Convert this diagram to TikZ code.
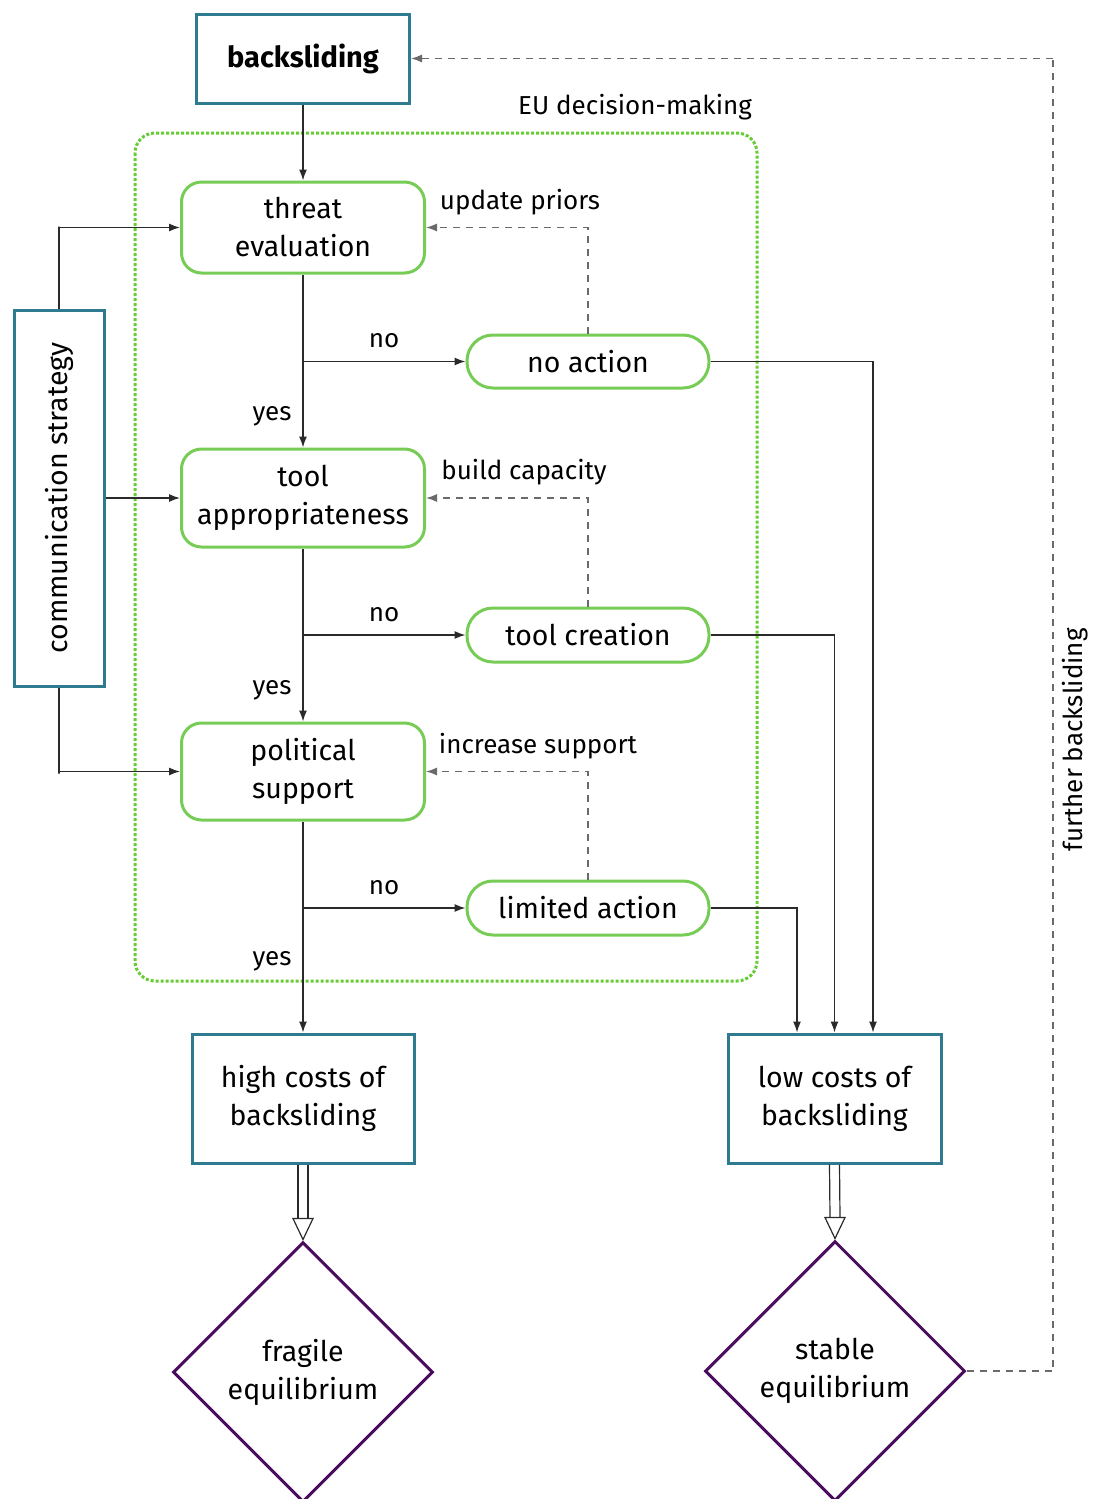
\documentclass[tikz,border=0pt]{standalone}
\usepackage{fontspec}
\setmainfont{Fira Sans}
\usetikzlibrary{shapes.geometric,arrows.meta,calc}
\definecolor{tealc}{HTML}{2E7A8E}
\definecolor{lgreen}{HTML}{77CC55}
\definecolor{dgreen}{HTML}{66CC33}
\definecolor{purp}{HTML}{4A0D5E}
\definecolor{conn}{HTML}{2A2A2A}
\definecolor{dashc}{HTML}{6A6A6A}
\tikzset{
  every node/.style={font=\fontsize{28.5}{38}\selectfont, align=center, inner sep=0pt},
  tealbox/.style={draw=tealc, line width=3pt, rectangle},
  greenbox/.style={draw=lgreen, line width=3pt, rectangle, rounded corners=20pt, minimum width=243pt},
  pillbox/.style={draw=lgreen, line width=3pt, rectangle, rounded corners=26pt, minimum width=242pt},
  eqbox/.style={draw=purp, line width=3pt, diamond, minimum width=260pt, minimum height=260pt, aspect=1},
  lbl/.style={font=\fontsize{26}{30}\selectfont},
  arr/.style={draw=conn, line width=1.3pt, -{Latex[length=11pt,width=8pt]}},
  darr/.style={draw=dashc, line width=1.3pt, dash pattern=on 7pt off 6pt, -{Latex[length=11pt,width=8pt]}},
  dline/.style={draw=dashc, line width=1.3pt, dash pattern=on 7pt off 6pt},
}
\begin{document}
\begin{tikzpicture}[x=1pt,y=-1pt]
\useasboundingbox (0,0) rectangle (1097,1499);
% container
\draw[dgreen, line width=3pt, dotted, rounded corners=20pt] (135,133) rectangle (757,981);
\node[lbl] (eu) at (635,107) {EU decision-making};
% nodes
\node[tealbox, minimum width=213pt, minimum height=89pt, font=\fontsize{29}{38}\selectfont\bfseries] (bs) at (303,58.5) {backsliding};
\node[greenbox, minimum height=91pt] (te) at (303,227.5) {threat\\evaluation};
\node[pillbox, minimum height=53pt] (na) at (588,361.5) {no action};
\node[greenbox, minimum height=98pt] (ta) at (303,498) {tool\\appropriateness};
\node[pillbox, minimum height=54pt] (tc) at (588,635) {tool creation};
\node[greenbox, minimum height=97pt] (ps) at (303,771.5) {political\\support};
\node[pillbox, minimum height=54pt] (la) at (588,908) {limited action};
\node[tealbox, minimum width=376pt, minimum height=90pt, rotate=90] (cs) at (59,498) {communication strategy};
\node[tealbox, minimum width=222pt, minimum height=129pt] (hc) at (303,1098.5) {high costs of\\backsliding};
\node[tealbox, minimum width=213pt, minimum height=129pt] (lc) at (834.5,1098.5) {low costs of\\backsliding};
\node[eqbox] (fe) at (303,1372) {fragile\\equilibrium};
\node[eqbox] (se) at (835,1371) {stable\\equilibrium};
% main flow
\draw[arr] (bs.south) -- (te.north);
\draw[arr] (te.south) -- (ta.north);
\draw[arr] (ta.south) -- (ps.north);
\draw[arr] (ps.south) -- (hc.north);
\coordinate (b1) at (303,361.5);
\coordinate (b2) at (303,635);
\coordinate (b3) at (303,908);
\draw[arr] (b1) -- (na.west);
\draw[arr] (b2) -- (tc.west);
\draw[arr] (b3) -- (la.west);
\node[lbl] (no1) at (384,341) {no};
\node[lbl] (no2) at (384,615) {no};
\node[lbl] (no3) at (384,888) {no};
\node[lbl] (y1) at (272,416) {yes};
\node[lbl] (y2) at (272,690) {yes};
\node[lbl] (y3) at (272,961) {yes};
% feedback dashed
\draw[darr] (na.north) |- (te.east);
\draw[darr] (tc.north) |- (ta.east);
\draw[darr] (la.north) |- (ps.east);
\node[lbl] (up) at (520,202) {update priors};
\node[lbl] (bc) at (524,472) {build capacity};
\node[lbl] (is) at (538,746) {increase support};
% to low costs
\coordinate (c1) at (873,361.5);
\coordinate (c3) at (797,908);
\draw[arr] (na.east) -- (c1) -- (c1 |- lc.north);
\draw[arr] (tc.east) -| (lc.north);
\draw[arr] (la.east) -- (c3) -- (c3 |- lc.north);
% communication strategy
\draw[arr] (cs.east) -- ++(0,-82) |- (te.west);
\draw[arr] (cs.south) -- (ta.west);
\draw[arr] (cs.west) -- ++(0,86) |- (ps.west);
% implies arrows
\foreach \a/\b in {hc/fe,lc/se}{
  \draw[conn, line width=1.2pt] ($(\a.south)+(-5,0)$) -- ($(\b.north)+(-5,-22)$);
  \draw[conn, line width=1.2pt] ($(\a.south)+(5,0)$) -- ($(\b.north)+(5,-22)$);
  \draw[conn, line width=1.2pt, fill=white, line join=miter] ($(\b.north)+(-10,-22)$) -- ($(\b.north)+(10,-22)$) -- ($(\b.north)+(0,-1)$) -- cycle;
}
% further backsliding
\coordinate (f1) at (1053,1371);
\draw[dline] (se.east) -- (f1) -- (f1 |- bs.east);
\draw[darr] (f1 |- bs.east) -- (bs.east);
\node[lbl, rotate=90] (fb) at (1075,740) {further backsliding};
\end{tikzpicture}
\end{document}
